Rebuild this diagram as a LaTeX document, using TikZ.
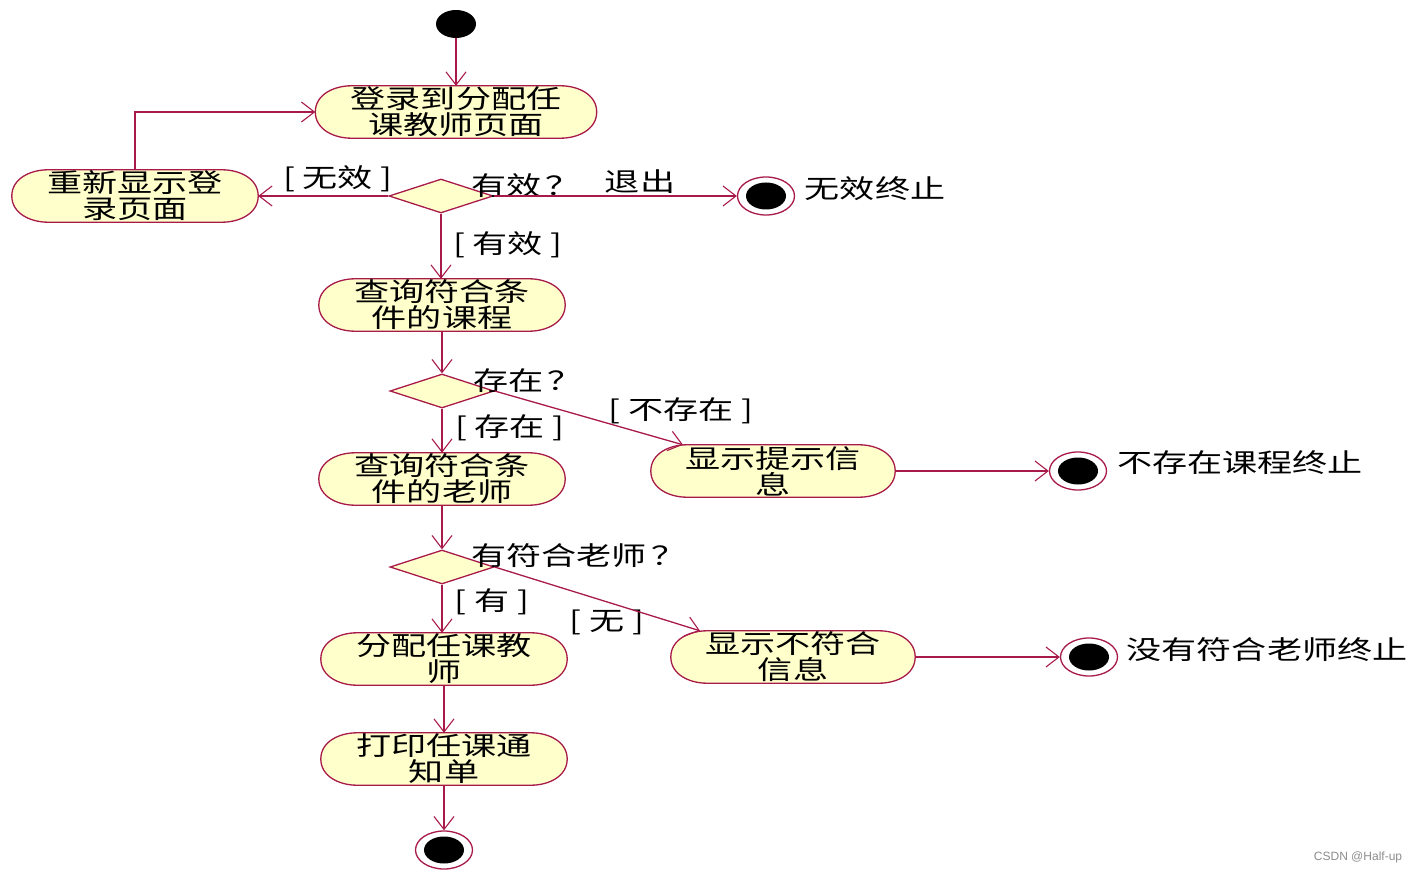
\documentclass[tikz,border=0pt]{standalone}
\usepackage{fontspec}
\newfontfamily\cjk[FakeStretch=1.35]{Noto Sans CJK SC}
\newfontfamily\wmfont{Liberation Sans}
\usetikzlibrary{arrows.meta,shapes.geometric,backgrounds}
\definecolor{lc}{RGB}{168,26,74}
\definecolor{bx}{RGB}{255,255,204}
\begin{document}
\begin{tikzpicture}[x=1pt,y=1pt,
  txt/.style={font=\cjk\fontsize{26}{26}\selectfont, inner sep=0pt, align=center},
  act/.style={txt, rectangle, minimum height=52pt},
  dec/.style={diamond, draw=lc, fill=bx, line width=1.3pt, minimum width=104pt, minimum height=34pt, inner sep=0pt},
  flow/.style={draw=lc, line width=1.3pt, -{Straight Barb[length=13pt,width=20pt,line width=1.1pt]}},
  startdot/.style={ellipse, fill=black, minimum width=40pt, minimum height=28pt, inner sep=0pt},
  fin/.style={ellipse, draw=lc, fill=white, line width=1.3pt, minimum width=57pt, minimum height=38pt, inner sep=0pt,
    path picture={\fill[black] (path picture bounding box.center) ellipse [x radius=20pt, y radius=13.5pt];}},
  outline/.style={draw=lc, line width=1.3pt, fill=bx}
]
\useasboundingbox (0,0) rectangle (1418,-874);

% nodes
\node[startdot] (s) at (456,-24) {};
\node[act, minimum width=281pt] (A) at (456,-112) {登录到分配任\\课教师页面};
\node[act, minimum width=246pt] (B) at (135,-196) {重新显示登\\录页面};
\node[dec] (D1) at (441,-196) {};
\node[fin] (E1) at (766,-196) {};
\node[txt] (t1) at (875,-189) {无效终止};
\node[act, minimum width=246pt] (C) at (442,-305) {查询符合条\\件的课程};
\node[dec] (D2) at (442,-391) {};
\node[act, minimum width=246pt] (E) at (442,-479) {查询符合条\\件的老师};
\node[act, minimum width=244pt] (F) at (773,-471) {显示提示信\\息};
\node[fin] (E2) at (1078,-471) {};
\node[txt] (t2) at (1240,-463) {不存在课程终止};
\node[dec] (D3) at (442,-567) {};
\node[act, minimum width=246pt] (G) at (444,-659) {分配任课教\\师};
\node[act, minimum width=244pt] (H) at (793,-657) {显示不符合\\信息};
\node[fin] (E3) at (1089,-657) {};
\node[txt] (t3) at (1267,-650) {没有符合老师终止};
\node[act, minimum width=246pt] (I) at (444,-759) {打印任课通\\知单};
\node[fin] (E4) at (444,-850) {};

% labels
\node[txt] (l1) at (338,-179) {[ 无效 ]};
\node[txt] (l2) at (526,-186) {有效\,？};
\node[txt] (l3) at (640,-182) {退出};
\node[txt] (l4) at (508,-245) {[ 有效 ]};
\node[txt] (l5) at (528,-381) {存在\,？};
\node[txt] (l6) at (510,-428) {[ 存在 ]};
\node[txt] (l7) at (681,-411) {[ 不存在 ]};
\node[txt] (l8) at (579,-556) {有符合老师\,？};
\node[txt] (l9) at (492,-602) {[ 有 ]};
\node[txt] (l10) at (607,-622) {[ 无 ]};
\node[font=\wmfont\fontsize{12}{12}\selectfont, text=black!45, inner sep=0pt] (wm) at (1358,-857) {CSDN @Half-up};

% activity outlines
\begin{scope}[on background layer]
\foreach \n in {A,B,C,E,F,G,H,I}
  \draw[outline] ([xshift=-36pt]\n.north east) to[out=0,in=90] (\n.east) to[out=-90,in=0] ([xshift=-36pt]\n.south east)
    -- ([xshift=36pt]\n.south west) to[out=180,in=-90] (\n.west) to[out=90,in=180] ([xshift=36pt]\n.north west) -- cycle;
\end{scope}

% connectors
\draw[flow] (s) -- (A);
\draw[flow] (B.north) |- (A.west);
\draw[flow] (D1.west) -- (B.east);
\draw[flow] (D1.east) -- (E1.west);
\draw[flow] (D1.south) -- (D1.south |- C.north);
\draw[flow] (C.south) -- (D2.north);
\draw[flow] (D2.south) -- (E.north);
\draw[flow] (D2.east) -- ([xshift=-90pt]F.north);
\draw[flow] (F.east) -- (E2.west);
\draw[flow] (E.south) -- (D3.north);
\draw[flow] (D3.south) -- (D3.south |- G.north);
\draw[flow] (D3.east) -- ([xshift=-93pt]H.north);
\draw[flow] (H.east) -- (E3.west);
\draw[flow] (G.south) -- (I.north);
\draw[flow] (I.south) -- (E4.north);
\end{tikzpicture}
\end{document}
